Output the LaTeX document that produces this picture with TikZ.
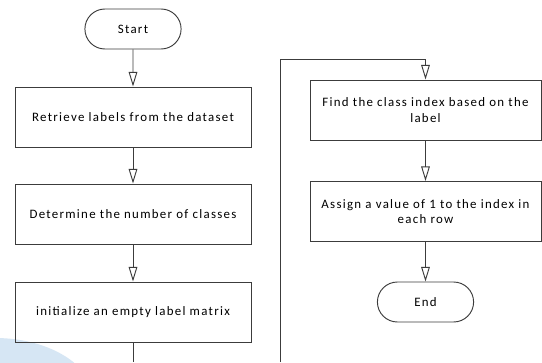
\documentclass[tikz,border=0pt]{standalone}
\usepackage{fontspec}
\setmainfont{Carlito}[LetterSpace=10]
\usetikzlibrary{arrows.meta,positioning,shapes.misc}

\definecolor{linegray}{RGB}{60,60,60}
\definecolor{bgblue}{RGB}{214,230,244}

\tikzset{
  process/.style={rectangle, draw=linegray, line width=0.8pt, minimum width=7.08cm, minimum height=1.8cm, align=center, font=\fontsize{11}{13.5}\selectfont},
  terminal/.style={rounded rectangle, draw=linegray, line width=0.8pt, minimum width=3.12cm, minimum height=1.2cm, font=\fontsize{11}{13.5}\selectfont},
  flow/.style={draw=linegray, line width=0.8pt, -{Triangle[open, length=0.44cm, width=0.26cm]}}
}

\begin{document}
\begin{tikzpicture}[x=0.03cm, y=-0.03cm]

    \useasboundingbox (0,0) rectangle (542,362);
    \fill[white] (0,0) rectangle (542,362);
    \begin{scope}
        \clip (0,0) rectangle (542,362);
        \fill[bgblue] (-5,400) ellipse [x radius=2.97cm, y radius=1.86cm];
    \end{scope}

    % left column
    \node[terminal] at (133, 29) (start) {Start};
    \node[process] at (133, 117) (retrieve) {Retrieve labels from the dataset};
    \node[process] at (133, 214) (count) {Determine the number of classes};
    \node[process] at (133, 312) (init) {initialize an empty label matrix};

    % right column
    \node[process, minimum width=6.93cm] at (425.5, 110) (find) {Find the class index based on the\\label};
    \node[process, minimum width=6.93cm] at (425.5, 211.5) (assign) {Assign a value of 1 to the index in\\each row};
    \node[terminal] at (425.5, 302) (end) {End};

    \coordinate (leftbot) at (133, 362);
    \coordinate (rightbot) at (280, 362);
    \coordinate (looptop) at (425.5, 59.5);

    \path[flow] (start) -- (retrieve);
    \path[flow] (retrieve) -- (count);
    \path[flow] (count) -- (init);
    \draw[linegray, line width=0.8pt] (init) -- (leftbot);
    \path[flow] (rightbot) |- (looptop) -- (find);
    \path[flow] (find) -- (assign);
    \path[flow] (assign) -- (end);
\end{tikzpicture}
\end{document}
